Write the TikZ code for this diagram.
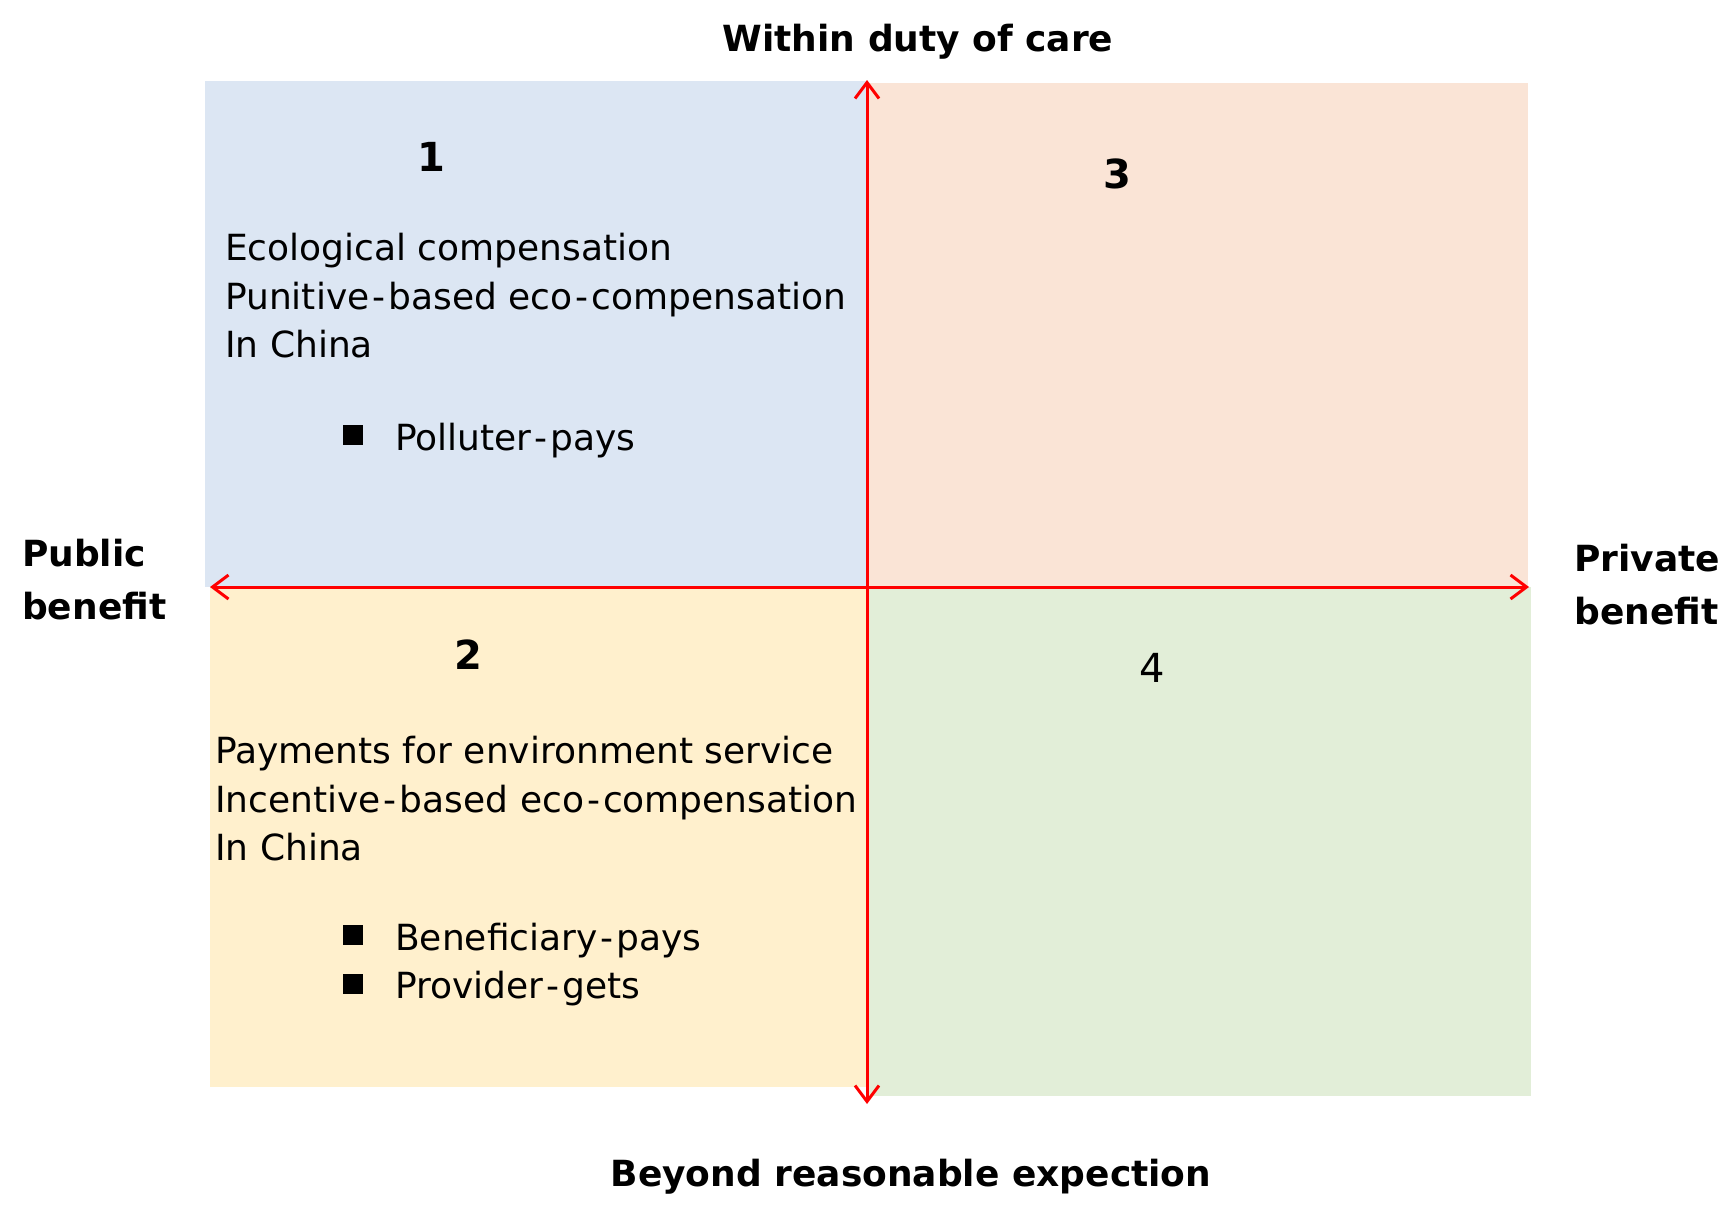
\documentclass[tikz,border=0pt]{standalone}
\usepackage{fontspec}
\setmainfont{DejaVu Sans}
\usetikzlibrary{arrows.meta}
\definecolor{qblue}{HTML}{DCE6F3}
\definecolor{qpeach}{HTML}{FAE4D6}
\definecolor{qyellow}{HTML}{FFF0CD}
\definecolor{qgreen}{HTML}{E2EED8}
\definecolor{axred}{HTML}{FF0000}
\newcommand{\hy}{\kern3pt-\kern3pt}
\begin{document}
\begin{tikzpicture}[x=1pt,y=-1pt,
  body/.style={anchor=base west,inner sep=0pt,font=\fontsize{36}{43}\selectfont},
  axislbl/.style={font=\bfseries\fontsize{36}{53}\selectfont,inner sep=0pt},
  qnum/.style={font=\bfseries\fontsize{40}{48}\selectfont,inner sep=0pt},
  qnumreg/.style={font=\fontsize{40}{48}\selectfont,inner sep=0pt},
  axisline/.style={draw=axred,line width=3pt,{Straight Barb[length=16pt,width=24pt]}-{Straight Barb[length=16pt,width=24pt]}},
  bulletsq/.style={fill=black,minimum size=20pt,inner sep=0pt}]
\useasboundingbox (0,0) rectangle (1736,1218);
% quadrants
\fill[qblue] (205,81) rectangle (867,587);
\fill[qpeach] (867,83) rectangle (1528,587);
\fill[qyellow] (210,587) rectangle (867,1087);
\fill[qgreen] (867,587) rectangle (1531,1096);
% axes
\coordinate (vtop) at (867,80);
\coordinate (vbot) at (867,1104);
\coordinate (hleft) at (210,587);
\coordinate (hright) at (1529,587);
\draw[axisline] (vbot) -- (vtop);
\draw[axisline] (hleft) -- (hright);
% axis labels
\node[axislbl] (lbltop) at (918,42) {Within duty of care};
\node[axislbl] (lblbot) at (911,1177) {Beyond reasonable expection};
\node[axislbl,anchor=west,align=left] (lblleft) at (22,580) {Public\\benefit};
\node[axislbl,anchor=west,align=left] (lblright) at (1574,585) {Private\\benefit};
% quadrant numbers
\node[qnum] (n1) at (431,157) {1};
\node[qnum] (n2) at (468,655) {2};
\node[qnum] (n3) at (1117,174) {3};
\node[qnumreg] (n4) at (1152,668) {4};
% quadrant 1 text
\node[body] (t1a) at (225,260) {Ecological compensation};
\node[body] (t1b) at (225,309) {Punitive\hy based eco\hy compensation};
\node[body] (t1c) at (225,357) {In China};
\node[bulletsq] (b1) at (353,435) {};
\node[body] (t1d) at (395,450) {Polluter\hy pays};
% quadrant 2 text
\node[body] (t2a) at (215,763) {Payments for environment service};
\node[body] (t2b) at (215,812) {Incentive\hy based eco\hy compensation};
\node[body] (t2c) at (215,860) {In China};
\node[bulletsq] (b2) at (353,935) {};
\node[body] (t2d) at (395,950) {Beneficiary\hy pays};
\node[bulletsq] (b3) at (353,984) {};
\node[body] (t2e) at (395,998) {Provider\hy gets};
\end{tikzpicture}
\end{document}
